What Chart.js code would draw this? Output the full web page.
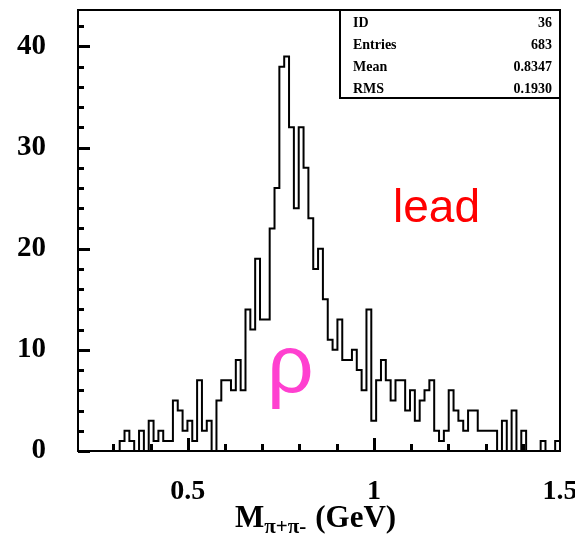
<!DOCTYPE html>
<html>
<head>
<meta charset="utf-8">
<script src="https://cdn.jsdelivr.net/npm/chart.js@4.4.0/dist/chart.umd.min.js"></script>
<style>
html,body{margin:0;padding:0;background:#fff;}
#wrap{width:575px;height:534px;position:relative;}
</style>
</head>
<body>
<div id="wrap"><canvas id="c" width="575" height="534"></canvas></div>
<script>
// ---- data (100 bins, 0.2 - 1.5 GeV) ----
const binStart = 0.2;
const binWidth = 0.013;
const binCounts = [
  0, 0, 0, 0, 0, 0, 0, 0, 0, 1,
  2, 1, 0, 2, 0, 3, 1, 2, 1, 1,
  5, 4, 2, 3, 1, 7, 2, 3, 0, 5,
  7, 7, 6, 9, 6, 14, 12, 19, 13, 13,
  22, 26, 38, 39, 32, 24, 32, 28, 23, 18,
  20, 15, 11, 10, 13, 9, 9, 10, 8, 6,
  14, 3, 7, 9, 7, 5, 7, 7, 4, 6,
  3, 5, 6, 7, 2, 1, 2, 6, 4, 3,
  2, 4, 4, 2, 2, 2, 2, 0, 3, 0,
  4, 0, 2, 0, 0, 0, 1, 0, 0, 1
];
const xAxisMin = 0.205, xAxisMax = 1.5;
const yAxisMin = 0, yAxisMax = 43.6;
const xTickLabels = [0.5, 1, 1.5];
const xMinorTicks = [0.3, 0.4, 0.6, 0.7, 0.8, 0.9, 1.1, 1.2, 1.3, 1.4];
const yTickLabels = [0, 10, 20, 30, 40];
const yMinorTicks = [2, 4, 6, 8, 12, 14, 16, 18, 22, 24, 26, 28, 32, 34, 36, 38, 42];
const statsLabels = ['ID', 'Entries', 'Mean', 'RMS'];
const statsValues = ['36', '683', '0.8347', '0.1930'];
const axisTitleMain = 'M';
const axisTitleSub = 'π+π-';
const axisTitleUnit = '(GeV)';
const sampleLabel = 'lead';
const peakLabel = 'ρ';

// histogram outline points (left edge of each bin, plus closing edge)
const histPoints = binCounts.map((c, i) => ({ x: binStart + i * binWidth, y: c }));
histPoints.push({ x: binStart + binCounts.length * binWidth, y: binCounts[binCounts.length - 1] });
histPoints.push({ x: binStart + binCounts.length * binWidth, y: 0 });

const serifBold = (size) => ({ family: 'Liberation Serif', size: size, weight: 'bold' });

const decor = {
  id: 'decor',
  afterDraw(chart) {
    const ctx = chart.ctx;
    const a = chart.chartArea;
    const xs = chart.scales.x, ys = chart.scales.y;
    ctx.save();
    ctx.fillStyle = '#000';
    // frame (2px)
    ctx.fillRect(a.left - 1, a.top - 1, a.right - a.left + 2, 2);
    ctx.fillRect(a.left - 1, a.bottom - 1, a.right - a.left + 2, 2);
    ctx.fillRect(a.left - 1, a.top - 1, 2, a.bottom - a.top + 2);
    ctx.fillRect(a.right - 1, a.top - 1, 2, a.bottom - a.top + 2);
    // ticks pointing inward
    for (const v of yTickLabels) {
      const p = Math.round(ys.getPixelForValue(v));
      ctx.fillRect(a.left, p - 1, 12, 3);
    }
    for (const v of yMinorTicks) {
      const p = Math.round(ys.getPixelForValue(v));
      ctx.fillRect(a.left, p - 1, 6, 3);
    }
    for (const v of xTickLabels) {
      if (v >= xAxisMax) continue;
      const p = Math.round(xs.getPixelForValue(v));
      ctx.fillRect(p - 1, a.bottom - 13, 3, 13);
    }
    for (const v of xMinorTicks) {
      const p = Math.round(xs.getPixelForValue(v));
      ctx.fillRect(p - 1, a.bottom - 7, 3, 7);
    }

    // statistics box
    const bx = a.right - 220, by = a.top, bw = 220, bh = 88;
    ctx.fillStyle = '#fff';
    ctx.fillRect(bx, by, bw, bh);
    ctx.strokeStyle = '#000';
    ctx.lineWidth = 2;
    ctx.strokeRect(bx, by, bw, bh);
    ctx.fillStyle = '#000';
    ctx.font = 'bold 14px "Liberation Serif"';
    ctx.textBaseline = 'middle';
    statsLabels.forEach((t, i) => {
      const rowY = by + 13 + i * 22;
      ctx.textAlign = 'left';
      ctx.fillText(t, bx + 13, rowY);
      ctx.textAlign = 'right';
      ctx.fillText(statsValues[i], bx + bw - 8, rowY);
    });

    // annotations
    ctx.textAlign = 'left';
    ctx.textBaseline = 'alphabetic';
    ctx.fillStyle = '#ff0000';
    ctx.font = '46px "Liberation Sans"';
    ctx.fillText(sampleLabel, a.left + 315, a.top + 212);
    ctx.fillStyle = '#ff40d0';
    ctx.font = '82px "Liberation Sans"';
    ctx.fillText(peakLabel, a.left + 189, a.top + 382);

    // x axis title with subscript
    ctx.fillStyle = '#000';
    ctx.font = 'bold 31px "Liberation Serif"';
    const tx = 235, baseY = 527;
    ctx.fillText(axisTitleMain, tx, baseY);
    const mw = ctx.measureText(axisTitleMain).width;
    ctx.font = 'bold 21px "Liberation Serif"';
    ctx.fillText(axisTitleSub, tx + mw, baseY + 6);
    const sw = ctx.measureText(axisTitleSub).width;
    ctx.font = 'bold 31px "Liberation Serif"';
    ctx.fillText(axisTitleUnit, tx + mw + sw + 9, baseY);
    ctx.restore();
  }
};

new Chart(document.getElementById('c'), {
  type: 'line',
  data: {
    datasets: [{
      data: histPoints,
      stepped: 'before',
      borderColor: '#000',
      borderWidth: 2,
      pointRadius: 0,
      fill: false,
      tension: 0
    }]
  },
  options: {
    responsive: false,
    animation: false,
    devicePixelRatio: 1,
    layout: { autoPadding: false, padding: { left: 0, right: 15, top: 10, bottom: 0 } },
    plugins: { legend: { display: false }, tooltip: { enabled: false } },
    scales: {
      x: {
        type: 'linear',
        min: xAxisMin,
        max: xAxisMax,
        grid: { display: false, drawTicks: false },
        border: { display: false },
        afterBuildTicks: s => { s.ticks = xTickLabels.map(v => ({ value: v })); },
        afterFit: s => { s.height = 83; s.paddingLeft = 0; s.paddingRight = 0; },
        ticks: {
          autoSkip: false, maxRotation: 0, minRotation: 0,
          padding: 24, color: '#000', font: serifBold(28),
          callback: v => String(v)
        }
      },
      y: {
        type: 'linear',
        min: yAxisMin,
        max: yAxisMax,
        grid: { display: false, drawTicks: false },
        border: { display: false },
        afterBuildTicks: s => { s.ticks = yTickLabels.map(v => ({ value: v })); },
        afterFit: s => { s.width = 78; s.paddingTop = 0; s.paddingBottom = 0; },
        ticks: {
          padding: 32, color: '#000', font: serifBold(29),
          callback: v => String(v)
        }
      }
    }
  },
  plugins: [decor]
});
</script>
</body>
</html>
